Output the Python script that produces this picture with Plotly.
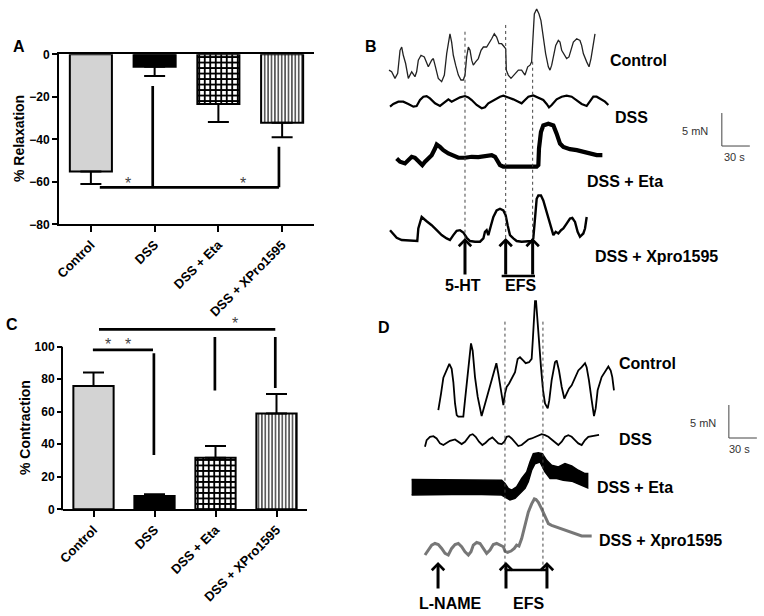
import plotly.graph_objects as go

# ---------------- data ----------------
categories = ["Control", "DSS", "DSS + Eta", "DSS + XPro1595"]
relaxation_mean = [-55.2, -5.8, -23.4, -32.2]
relaxation_sem = [5.8, 4.4, 8.5, 6.8]
contraction_mean = [75.8, 8.2, 31.7, 59.0]
contraction_sem = [8.4, 1.0, 7.2, 11.9]
relaxation_ticks = [0, -20, -40, -60, -80]
contraction_ticks = [0, 20, 40, 60, 80, 100]

# Panel B (5-HT) recordings: time (s), force (mN above trace minimum)
b_control_t = [4.3, 7.1, 10.7, 13.6, 16.1, 17.9, 19.6, 22.1, 25.0, 26.8, 28.6, 32.1, 33.9, 35.7, 38.6, 42.1,
               44.6, 46.4, 50.0, 51.8, 53.6, 55.4, 57.1, 60.7, 63.6, 66.1, 67.9, 69.6, 71.4, 73.2, 75.7, 78.6,
               81.4, 83.9, 85.7, 87.5, 89.3, 91.1, 92.9, 94.6, 97.1, 100.0, 102.9, 105.4, 108.9, 111.4, 114.3,
               117.1, 119.6, 122.1, 125.0, 127.9, 129.3, 130.0, 132.1, 135.0, 139.3, 142.9, 146.4, 150.0, 152.9,
               155.4, 157.1, 158.9, 160.0, 162.5, 165.0, 167.1, 169.6, 172.1, 175.0, 176.8, 178.6, 180.4, 182.9,
               185.7, 187.5, 189.3, 192.1, 194.6, 197.1, 199.3, 201.8, 205.4, 208.9, 210.7, 212.5, 216.1, 218.6,
               220.7, 223.2, 225.0]
b_control_f = [1.75, 1.5, 0.5, 1.25, 4.75, 5.25, 4.0, 2.75, 0.5, 1.0, 1.5, 0.75, 1.5, 3.25, 4.0, 3.75, 3.0, 2.25,
               3.25, 3.5, 2.5, 1.5, 0.5, 0.0, 1.0, 4.25, 6.25, 7.25, 6.0, 4.0, 2.5, 1.0, 0.25, 0.25, 1.0, 3.75,
               5.25, 4.75, 3.25, 2.5, 3.0, 3.5, 4.75, 5.25, 5.25, 5.75, 6.5, 7.25, 6.75, 5.75, 5.75, 5.25, 5.0,
               1.75, 1.0, 0.5, 1.25, 1.75, 1.75, 1.0, 2.25, 2.5, 3.0, 8.25, 10.25, 11.0, 10.25, 9.25, 6.75, 4.25,
               2.25, 1.75, 2.5, 3.75, 5.5, 6.25, 6.0, 4.75, 4.0, 3.5, 3.75, 5.0, 6.0, 6.5, 6.25, 5.5, 4.25, 3.0,
               2.25, 3.5, 5.5, 7.25]
b_dss_t = [5.4, 8.9, 14.3, 19.6, 25.0, 30.4, 33.9, 37.5, 41.1, 44.6, 48.2, 53.6, 58.9, 64.3, 67.9, 71.4, 75.0,
           80.4, 85.7, 89.3, 92.9, 98.2, 103.6, 107.1, 110.7, 117.9, 123.2, 126.8, 132.1, 137.5, 142.9, 146.4,
           150.0, 153.6, 158.9, 164.3, 169.6, 173.2, 175.7, 178.6, 183.9, 189.3, 194.6, 200.0, 205.4, 210.7,
           216.1, 219.6, 223.2, 226.8, 232.1, 235.7, 239.3]
b_dss_f = [0.25, 0.65, 1.0, 1.0, 0.65, 0.25, 0.35, 1.25, 1.75, 1.85, 1.5, 0.75, 0.35, 1.0, 1.35, 1.0, 1.25, 1.65,
           1.85, 1.65, 1.25, 0.5, 0.0, 0.15, 0.75, 1.35, 1.75, 1.9, 1.65, 1.35, 1.0, 0.75, 1.25, 1.75, 1.95, 1.65,
           1.25, 0.65, 0.15, 0.5, 1.35, 1.75, 1.9, 1.75, 1.25, 0.65, 0.35, 1.0, 1.75, 1.75, 1.35, 1.0, 0.5]
b_eta_t = [12.5, 16.1, 21.4, 25.0, 28.6, 32.1, 35.7, 40.0, 42.9, 46.4, 50.0, 53.6, 55.4, 58.9, 62.5, 67.9, 73.2,
           78.6, 85.7, 92.9, 100.0, 107.1, 114.3, 117.9, 121.4, 123.2, 126.8, 135.7, 142.9, 150.0, 157.1, 162.5,
           164.3, 165.0, 167.1, 169.6, 175.0, 180.4, 183.9, 187.5, 191.1, 198.2, 205.4, 212.5, 219.6, 226.8, 232.9]
b_eta_f = [1.25, 0.75, 0.5, 1.0, 1.5, 1.35, 0.75, 0.25, 0.75, 1.25, 1.75, 2.75, 3.35, 3.0, 2.5, 2.0, 1.65, 1.35,
           1.35, 1.5, 1.45, 1.65, 1.75, 1.5, 0.75, 0.25, 0.0, 0.0, 0.0, 0.0, 0.0, 0.0, 0.25, 2.75, 5.25, 6.25,
           6.5, 6.25, 5.0, 3.5, 3.0, 2.65, 2.5, 2.25, 1.85, 1.75, 1.75]
b_xpro_t = [5.4, 8.9, 12.5, 17.9, 25.0, 32.1, 34.6, 35.7, 37.5, 39.3, 44.6, 50.0, 55.4, 60.7, 66.1, 69.6, 73.2,
            76.8, 80.4, 83.9, 87.5, 91.1, 96.4, 101.8, 105.4, 107.1, 108.9, 110.7, 113.6, 116.1, 119.6, 123.2,
            126.8, 129.3, 131.4, 133.9, 137.5, 141.1, 146.4, 153.6, 157.1, 158.9, 160.0, 161.4, 162.5, 164.3,
            167.1, 169.6, 173.2, 176.8, 180.4, 182.9, 185.7, 188.6, 191.1, 194.6, 198.2, 200.7, 203.6, 206.4,
            208.9, 212.5, 214.3, 216.1]
b_xpro_f = [1.75, 1.25, 0.6, 0.25, 0.15, 0.1, 0.1, 2.0, 2.75, 3.75, 3.1, 2.5, 1.75, 1.0, 0.5, 0.25, 1.0, 1.65,
            1.75, 1.4, 0.6, 0.1, 0.0, 0.0, 0.5, 1.5, 1.75, 1.0, 2.5, 3.75, 4.75, 5.0, 4.75, 4.0, 2.5, 1.0, 0.5,
            0.1, 0.0, 0.0, 0.1, 0.5, 2.5, 4.0, 6.5, 7.0, 7.0, 6.25, 4.5, 2.5, 1.0, 1.5, 1.25, 1.75, 2.0, 2.75,
            3.5, 3.6, 3.0, 1.5, 0.75, 1.25, 2.0, 3.75]
b_event_t = [85.7, 129.3, 158.2]          # 5-HT, EFS on, EFS off (s)

# Panel D (L-NAME) recordings
d_control_t = [35.7, 36.8, 38.6, 41.1, 44.6, 47.5, 50.0, 51.8, 53.6, 55.4, 57.1, 60.7, 62.5, 64.3, 67.1, 68.9,
               70.7, 72.5, 75.0, 77.9, 80.4, 82.1, 83.9, 86.8, 89.3, 92.1, 95.7, 97.9, 100.0, 102.9, 105.4, 107.1,
               108.9, 111.4, 114.3, 117.9, 120.7, 123.2, 126.8, 129.3, 132.9, 135.7, 137.1, 138.6, 139.3, 140.4,
               141.8, 143.6, 145.7, 147.9, 150.0, 152.9, 154.6, 157.1, 160.7, 162.5, 165.0, 167.9, 170.7, 173.2,
               175.7, 178.6, 182.1, 185.7, 189.3, 192.9, 194.6, 197.1, 200.0, 202.5, 204.3, 206.4, 210.7, 214.3,
               217.9, 220.4, 222.1, 223.9]
d_control_f = [1.0, 1.75, 3.5, 5.9, 7.0, 8.0, 7.25, 5.25, 2.0, 0.25, 0.0, 0.0, 0.0, 2.5, 6.5, 9.5, 11.1, 10.0,
               6.0, 3.0, 1.0, 0.1, 1.0, 2.5, 3.5, 5.0, 7.0, 8.1, 6.5, 4.0, 1.75, 3.5, 4.5, 5.0, 5.75, 6.75, 8.75,
               9.0, 8.5, 8.1, 8.25, 8.75, 12.0, 16.0, 17.5, 17.5, 14.5, 12.0, 7.5, 4.0, 2.0, 1.25, 2.5, 5.5, 8.25,
               8.5, 7.0, 4.5, 2.75, 3.5, 4.25, 4.75, 6.0, 7.0, 7.5, 8.1, 7.5, 5.5, 2.5, 0.1, 1.25, 4.0, 6.0, 6.75,
               7.6, 7.0, 6.0, 4.0]
d_dss_t = [21.4, 23.2, 26.8, 30.4, 33.9, 37.5, 41.1, 44.6, 48.2, 53.6, 57.1, 60.7, 64.3, 69.6, 72.5, 75.7, 79.3,
           82.9, 86.4, 90.0, 93.6, 96.4, 100.0, 103.6, 106.4, 108.9, 111.4, 114.3, 117.9, 121.4, 125.0, 128.6,
           132.1, 135.7, 139.3, 142.9, 146.4, 150.0, 153.6, 157.1, 160.7, 164.3, 167.9, 171.4, 175.0, 178.6,
           182.1, 185.7, 189.3, 192.9, 196.4, 200.0, 203.6, 207.9]
d_dss_f = [0.0, 1.0, 1.5, 1.6, 1.25, 0.5, 0.25, 0.6, 0.9, 1.1, 0.75, 0.4, 0.75, 1.75, 1.9, 1.5, 0.75, 0.25, 0.6,
           1.1, 1.4, 1.0, 0.5, 0.4, 0.75, 1.5, 1.6, 1.25, 0.6, 0.1, 0.25, 0.75, 1.1, 1.25, 1.5, 1.7, 1.9, 1.75,
           1.5, 1.1, 0.6, 0.25, 0.75, 1.5, 1.75, 1.5, 1.0, 0.5, 0.25, 1.0, 1.5, 1.6, 1.7, 1.8]
d_eta_upper_t = [7.1, 35.7, 71.4, 103.6, 107.1, 110.7, 114.3, 119.6, 125.0, 130.4, 133.9, 137.5, 142.9, 147.1,
                 151.8, 157.1, 164.3, 171.4, 178.6, 185.7, 192.9, 195.7]
d_eta_upper_f = [3.1, 3.1, 3.1, 3.0, 2.5, 1.75, 1.5, 2.0, 3.25, 4.25, 5.75, 7.0, 7.15, 7.0, 6.0, 5.25, 5.0, 5.5,
                 5.15, 4.5, 4.0, 4.0]
d_eta_lower_t = [7.1, 35.7, 71.4, 103.6, 107.1, 112.5, 117.9, 123.2, 128.6, 132.1, 135.7, 139.3, 144.6, 150.0,
                 155.4, 162.5, 169.6, 178.6, 185.7, 192.9, 195.7]
d_eta_lower_f = [0.75, 0.75, 0.85, 0.75, 0.5, 0.0, 0.25, 1.0, 1.75, 2.75, 4.5, 5.5, 5.75, 4.25, 3.25, 3.25, 3.0,
                 2.85, 2.5, 2.0, 1.85]
d_xpro_t = [21.4, 24.3, 28.6, 32.1, 35.7, 39.3, 42.9, 46.4, 50.0, 53.6, 57.1, 60.7, 64.3, 67.9, 70.7, 73.2, 76.8,
            80.4, 83.9, 87.5, 91.1, 94.6, 98.2, 101.8, 105.4, 107.1, 110.0, 113.6, 117.1, 119.6, 122.1, 125.0,
            128.6, 132.1, 135.7, 138.6, 140.4, 142.9, 146.4, 150.0, 153.6, 157.1, 162.5, 167.9, 173.2, 178.6,
            183.9, 189.3, 194.6, 200.0]
d_xpro_f = [0.0, 0.6, 1.5, 1.75, 1.6, 1.0, 0.25, 0.0, 1.0, 1.6, 1.75, 1.25, 0.5, 0.0, 0.5, 1.5, 1.9, 1.75, 1.0,
            0.25, 0.75, 1.6, 1.75, 1.5, 1.25, 0.6, 0.4, 0.6, 1.0, 1.5, 1.35, 2.5, 4.5, 6.5, 7.75, 8.5, 8.4, 8.0,
            7.0, 5.75, 4.75, 4.5, 4.25, 4.0, 3.75, 3.4, 3.25, 2.9, 2.9, 2.9]
d_event_t = [35.4, 107.1, 147.8]          # L-NAME, EFS on, EFS off (s)

scale_mN = 5
scale_s = 30

# ---------------- layout helpers ----------------
W, H = 764, 616
S_PER_PX = 30 / 28
MN_PER_PX = 5 / 33


def fx(p):
    return p / W


def fy(p):
    return 1 - p / H


BOLD = dict(family="Arial", color="black", weight="bold")

fig = go.Figure()

bar_styles = [
    dict(color="#d3d3d3", line=dict(color="black", width=2)),
    dict(color="black", line=dict(color="black", width=2)),
    dict(color="white", line=dict(color="black", width=2),
         pattern=dict(shape="+", fgcolor="black", bgcolor="white", size=5.5, solidity=0.55)),
    dict(color="white", line=dict(color="black", width=2),
         pattern=dict(shape="|", fgcolor="black", bgcolor="white", size=3.4, solidity=0.32)),
]

for i, cat in enumerate(categories):
    fig.add_trace(go.Bar(
        x=[cat], y=[relaxation_mean[i]], width=0.66, marker=bar_styles[i],
        error_y=dict(type="data", symmetric=False, array=[0], arrayminus=[relaxation_sem[i]],
                     color="black", thickness=2, width=10.5),
        xaxis="x", yaxis="y", showlegend=False, hoverinfo="skip"))
    fig.add_trace(go.Bar(
        x=[cat], y=[contraction_mean[i]], width=0.66, marker=bar_styles[i],
        error_y=dict(type="data", symmetric=False, array=[contraction_sem[i]], arrayminus=[0],
                     color="black", thickness=2, width=10.5),
        xaxis="x2", yaxis="y2", showlegend=False, hoverinfo="skip"))


def add_rec(t, f, off, xa, ya, color, width):
    fig.add_trace(go.Scatter(x=t, y=[v + off for v in f], mode="lines",
                             line=dict(color=color, width=width), xaxis=xa, yaxis=ya,
                             showlegend=False, hoverinfo="skip"))


# baselines (mN) of each recording within its panel
offB = dict(control=33.08, dss=29.05, eta=20.2, xpro=8.83)
offD = dict(control=30.2, dss=25.65, eta=17.58, xpro=9.24)

add_rec(b_control_t, b_control_f, offB["control"], "x3", "y3", "#222222", 1.3)
add_rec(b_dss_t, b_dss_f, offB["dss"], "x3", "y3", "black", 2.2)
add_rec(b_eta_t, b_eta_f, offB["eta"], "x3", "y3", "black", 4.2)
add_rec(b_xpro_t, b_xpro_f, offB["xpro"], "x3", "y3", "black", 2.4)

add_rec(d_control_t, d_control_f, offD["control"], "x4", "y4", "black", 1.8)
add_rec(d_dss_t, d_dss_f, offD["dss"], "x4", "y4", "black", 1.8)
fig.add_trace(go.Scatter(
    x=d_eta_upper_t + d_eta_lower_t[::-1],
    y=[v + offD["eta"] for v in d_eta_upper_f] + [v + offD["eta"] for v in d_eta_lower_f[::-1]],
    mode="lines", fill="toself", fillcolor="black", line=dict(color="black", width=1.5),
    xaxis="x4", yaxis="y4", showlegend=False, hoverinfo="skip"))
add_rec(d_xpro_t, d_xpro_f, offD["xpro"], "x4", "y4", "#777777", 3)

shapes = []


def seg(x0, y0, x1, y1, xref, yref, width=2.7, color="black", dash=None):
    ln = dict(color=color, width=width)
    if dash:
        ln["dash"] = dash
    shapes.append(dict(type="line", x0=x0, y0=y0, x1=x1, y1=y1, xref=xref, yref=yref, line=ln))


# significance brackets, panel A
seg(0.14, -62.6, 2.95, -62.6, "x", "y")
seg(0.97, -14.9, 0.97, -62.6, "x", "y")
seg(2.95, -43.5, 2.95, -62.6, "x", "y")
# significance brackets, panel C
seg(0.09, 110.7, 2.98, 110.7, "x2", "y2")
seg(-0.01, 98.0, 0.975, 98.0, "x2", "y2")
seg(0.99, 96.0, 0.99, 33.4, "x2", "y2")
seg(1.99, 106.0, 1.99, 73.0, "x2", "y2")
seg(2.98, 106.0, 2.98, 74.6, "x2", "y2")
# y axis line for panel C (0..100 only)
shapes.append(dict(type="line", xref="paper", yref="paper", x0=fx(62), x1=fx(62), y0=fy(510.3), y1=fy(346.7),
                   line=dict(color="black", width=2)))

# panel B event markers
b_tops = [40.65, 41.67, 36.1]
for t, top in zip(b_event_t, b_tops):
    seg(t, top, t, 9.1, "x3", "y3", width=1, color="#444444", dash="dot")
seg(125.0, 3.64, 160.7, 3.64, "x3", "y3", width=2.5)
# panel D event markers
for t in d_event_t[1:]:
    seg(t, 44.6, t, 6.97, "x4", "y4", width=1, color="#444444", dash="dot")
seg(108.2, 6.97, 152.1, 6.97, "x4", "y4", width=2.5)

# scale bars
seg(360.9, 23.33, 360.9, 23.33 + scale_mN, "x3", "y3", width=1, color="#444444")
seg(360.9, 23.33, 360.9 + scale_s, 23.33, "x3", "y3", width=1, color="#444444")
seg(347.0, 26.97, 347.0, 26.97 + scale_mN, "x4", "y4", width=1, color="#444444")
seg(347.0, 26.97, 347.0 + scale_s, 26.97, "x4", "y4", width=1, color="#444444")

annotations = []


def text(s, x, y, size=16, bold=True, xanchor="center", angle=0, color="black"):
    font = dict(family="Arial", size=size, color=color)
    if bold:
        font["weight"] = "bold"
    annotations.append(dict(text=s, x=fx(x), y=fy(y), xref="paper", yref="paper", showarrow=False,
                            xanchor=xanchor, yanchor="middle", font=font, textangle=angle))


for s, x, y in [("A", 19, 46.5), ("B", 371, 46), ("C", 12, 324), ("D", 384, 327)]:
    text(s, x, y, size=16)
text("% Relaxation", 19, 139, size=14, angle=-90)
text("% Contraction", 25, 428, size=14, angle=-90)

for s, x, y in [("Control", 608, 61), ("DSS", 613, 117), ("DSS + Eta", 585, 182), ("DSS + Xpro1595", 593, 257),
                ("Control", 617, 363), ("DSS", 617, 439), ("DSS + Eta", 595, 487),
                ("DSS + Xpro1595", 597, 540)]:
    text(s, x, y, size=16, xanchor="left")

for s, x, y in [("5-HT", 463, 285), ("EFS", 520, 285), ("L-NAME", 450, 603), ("EFS", 528, 603)]:
    text(s, x, y, size=16)

for s, x, y in [("5 mN", 695, 131), ("30 s", 734, 157), ("5 mN", 702.5, 423), ("30 s", 739, 449)]:
    text(s, x, y, size=11, bold=False, color="#333333")

# asterisks
for x, y, xr, yr in [(0.58, -60.6, "x", "y"), (2.39, -60.6, "x", "y"),
                     (2.32, 114.1, "x2", "y2"), (0.24, 101.2, "x2", "y2"), (0.57, 101.2, "x2", "y2")]:
    annotations.append(dict(text="*", x=x, y=y, xref=xr, yref=yr, showarrow=False,
                            font=dict(family="Arial", size=16, color="#444444")))

# stimulus arrows
for t in b_event_t:
    annotations.append(dict(text="", x=t, y=9.39, ax=t, ay=3.64, xref="x3", yref="y3", axref="x3", ayref="y3",
                            showarrow=True, arrowhead=4, arrowsize=0.8, arrowwidth=3, arrowcolor="black",
                            standoff=0))
for tt in [35.4, 108.2, 152.1]:
    annotations.append(dict(text="", x=tt, y=8.18, ax=tt, ay=3.94, xref="x4", yref="y4", axref="x4",
                            ayref="y4", showarrow=True, arrowhead=4, arrowsize=0.8, arrowwidth=3,
                            arrowcolor="black", standoff=0))

cat_axis = dict(type="category", range=[-0.5, 3.5], showline=True, linecolor="black", linewidth=2,
                ticks="outside", ticklen=6, tickwidth=2, tickcolor="black", tickangle=-45,
                tickfont=dict(size=13, **BOLD), showgrid=False, zeroline=False, fixedrange=True,
                automargin=False)

fig.update_layout(
    template="none",
    width=W, height=H, margin=dict(l=0, r=0, t=0, b=0, pad=0), autosize=False,
    paper_bgcolor="white", plot_bgcolor="rgba(0,0,0,0)", showlegend=False, barmode="overlay",
    font=dict(family="Arial", color="black"),
    xaxis=dict(domain=[fx(59), fx(314)], anchor="y", mirror=True, **cat_axis),
    yaxis=dict(domain=[fy(224.3), fy(54.3)], anchor="x", range=[-80, 0], tickvals=relaxation_ticks,
               showline=True, linecolor="black", linewidth=2, ticks="outside", ticklen=5, tickwidth=2,
               tickcolor="black", tickfont=dict(size=12, **BOLD), showgrid=False, zeroline=False,
               automargin=False),
    xaxis2=dict(domain=[fx(63), fx(307)], anchor="y2", **cat_axis),
    yaxis2=dict(domain=[fy(509.3), fy(314.2)], anchor="x2", range=[0, 120], tickvals=contraction_ticks,
                showline=False, ticks="outside", ticklen=5, tickwidth=2, tickcolor="black",
                tickfont=dict(size=12, **BOLD), showgrid=False, zeroline=False, automargin=False),
    xaxis3=dict(domain=[fx(385), 1], anchor="y3", range=[0, (W - 385) * S_PER_PX], visible=False,
                automargin=False),
    yaxis3=dict(domain=[fy(300), 1], anchor="x3", range=[0, 300 * MN_PER_PX], visible=False,
                automargin=False),
    xaxis4=dict(domain=[fx(405), 1], anchor="y4", range=[0, (W - 405) * S_PER_PX], visible=False,
                automargin=False),
    yaxis4=dict(domain=[0, fy(290)], anchor="x4", range=[0, (H - 290) * MN_PER_PX], visible=False,
                automargin=False),
    shapes=shapes, annotations=annotations,
)

fig.write_html(
    "out.html",
    config={"displayModeBar": False, "staticPlot": True},
    post_script="document.body.style.margin='0';document.body.style.padding='0';"
                "document.documentElement.style.overflow='hidden';window.scrollTo(0,0);",
)
